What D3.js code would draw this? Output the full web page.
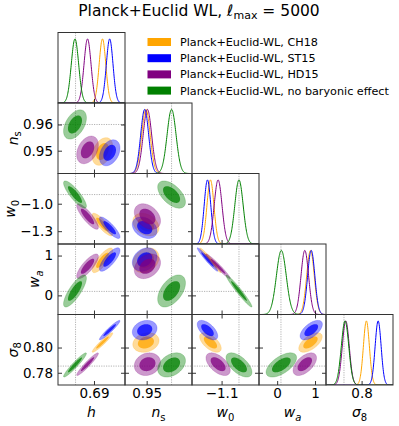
<!DOCTYPE html>
<html>
<head>
<meta charset="utf-8">
<script src="https://cdn.jsdelivr.net/npm/d3@7"></script>
<style>
  body { margin: 0; background: #fff; }
  svg { font-family: "DejaVu Sans", sans-serif; }
</style>
</head>
<body>
<svg id="chart" width="399" height="426"></svg>
<script>
// parameters, in corner order
const params = ['h', 'ns', 'w0', 'wa', 's8']
const fiducial = [0.68, 0.96, -0.9, 0.1, 0.7853]
const domains = [[0.6705, 0.7068], [0.9413, 0.9682], [-1.44, -0.67], [-0.48, 1.29], [0.7703, 0.8262]]
const xTicks = [[0.69], [0.95], [-1.1], [0, 1], [0.8]]
const yTicks = [[], [0.95, 0.96], [-1.3, -1.0], [0, 1], [0.78, 0.80]]
const xTickFmt = ['.2f', '.2f', '.1f', 'd', '.1f']
const yTickFmt = [null, '.2f', '.1f', 'd', '.2f']

// models
const models = ['Planck+Euclid-WL, CH18', 'Planck+Euclid-WL, ST15', 'Planck+Euclid-WL, HD15', 'Planck+Euclid-WL, no baryonic effect']
const colors = ['#ffa500', '#0000ff', '#800080', '#008000']

// means  [h, ns, w0, wa, s8]
const meanCH18  = [0.6946, 0.9497, -1.228, 0.88, 0.8040]
const meanST15  = [0.6985, 0.9492, -1.262, 0.90, 0.8138]
const meanHD15  = [0.6865, 0.9503, -1.140, 0.73, 0.7868]
const meanNoBar = [0.6797, 0.9600, -0.900, 0.11, 0.7862]

// 1-sigma errors [h, ns, w0, wa, s8]
const sigmaCH18  = [0.0018, 0.0017, 0.040, 0.100, 0.0025]
const sigmaST15  = [0.0018, 0.0016, 0.038, 0.095, 0.0025]
const sigmaHD15  = [0.0019, 0.0017, 0.045, 0.100, 0.0029]
const sigmaNoBar = [0.0020, 0.0018, 0.048, 0.130, 0.0031]

// correlations, pairs: h-ns, h-w0, h-wa, h-s8, ns-w0, ns-wa, ns-s8, w0-wa, w0-s8, wa-s8
const pairs = [[0,1],[0,2],[0,3],[0,4],[1,2],[1,3],[1,4],[2,3],[2,4],[3,4]]
const corrCH18  = [0.35, -0.85, 0.80, 0.95, -0.30, 0.25, 0.20, -0.97, -0.60, 0.60]
const corrST15  = [0.35, -0.85, 0.78, 0.95, -0.30, 0.25, 0.20, -0.97, -0.60, 0.60]
const corrHD15  = [0.35, -0.85, 0.80, 0.95, -0.35, 0.30, 0.15, -0.97, -0.55, 0.55]
const corrNoBar = [0.45, -0.85, 0.80, 0.95, -0.55, 0.50, 0.35, -0.97, -0.60, 0.60]

const means = [meanCH18, meanST15, meanHD15, meanNoBar]
const sigmas = [sigmaCH18, sigmaST15, sigmaHD15, sigmaNoBar]
const corrs = [corrCH18, corrST15, corrHD15, corrNoBar]

const padL = 58, padT = 32.5, cellW = 67, cellH = 70.5
const n = params.length
const k68 = 1.9, k95 = 3.1

const svg = d3.select('#chart')

const x = domains.map((d, j) => d3.scaleLinear().domain(d).range([padL + j * cellW, padL + (j + 1) * cellW]))
const y = domains.map((d, i) => d3.scaleLinear().domain(d).range([padT + (i + 1) * cellH, padT + i * cellH]))

const rho = (m, a, b) => corrs[m][pairs.findIndex(p => p[0] === a && p[1] === b)]

function ellipse(m, a, b, k) {
  const mx = means[m][a], my = means[m][b]
  const sx = sigmas[m][a], sy = sigmas[m][b], r = rho(m, a, b)
  const pts = d3.range(0, 2 * Math.PI, Math.PI / 72).map(t => [
    mx + k * sx * Math.cos(t),
    my + k * sy * (r * Math.cos(t) + Math.sqrt(1 - r * r) * Math.sin(t))
  ])
  return d3.line().x(p => x[a](p[0])).y(p => y[b](p[1]))(pts) + 'Z'
}

const defs = svg.append('defs')
const leftAxes = []

function addTicks(g, i, j, diag) {
  const x0 = padL + j * cellW, x1 = x0 + cellW
  const y0 = padT + i * cellH, y1 = y0 + cellH
  const fx = d3.format(xTickFmt[j])
  g.append('g').attr('transform', `translate(0,${y1})`)
    .call(d3.axisBottom(x[j]).tickValues(xTicks[j]).tickSizeInner(-4).tickSizeOuter(0).tickPadding(3)
      .tickFormat(i === n - 1 ? fx : ''))
  if (!diag) {
    g.append('g').attr('transform', `translate(0,${y0})`)
      .call(d3.axisTop(x[j]).tickValues(xTicks[j]).tickSizeInner(-4).tickSizeOuter(0).tickFormat(''))
    const la = g.append('g').attr('transform', `translate(${x0},0)`)
      .call(d3.axisLeft(y[i]).tickValues(yTicks[i]).tickSizeInner(-4).tickSizeOuter(0).tickPadding(5)
        .tickFormat(j === 0 ? d3.format(yTickFmt[i]) : ''))
    if (j === 0) leftAxes[i] = la
    g.append('g').attr('transform', `translate(${x1},0)`)
      .call(d3.axisRight(y[i]).tickValues(yTicks[i]).tickSizeInner(-4).tickSizeOuter(0).tickFormat(''))
  }
  g.selectAll('.domain').remove()
  g.selectAll('.tick line').attr('stroke', '#000').attr('stroke-width', 0.8)
  g.selectAll('.tick text').attr('font-size', 13.5).attr('fill', '#000').attr('font-family', 'DejaVu Sans')
}

for (let i = 0; i < n; i++) {
  for (let j = 0; j <= i; j++) {
    const x0 = padL + j * cellW, y0 = padT + i * cellH
    const id = `clip-${i}-${j}`
    defs.append('clipPath').attr('id', id).append('rect')
      .attr('x', x0).attr('y', y0).attr('width', cellW).attr('height', cellH)
    const panel = svg.append('g')
    const inner = panel.append('g').attr('clip-path', `url(#${id})`)

    // fiducial lines
    inner.append('line').attr('x1', x[j](fiducial[j])).attr('x2', x[j](fiducial[j]))
      .attr('y1', y0).attr('y2', y0 + cellH)
      .attr('stroke', '#aaa').attr('stroke-width', 0.9).attr('stroke-dasharray', '1.2,1.2')

    if (i === j) {
      const yp = d3.scaleLinear().domain([0, 1.1]).range([y0 + cellH, y0])
      const dom = domains[j]
      const xs = d3.range(dom[0], dom[1], (dom[1] - dom[0]) / 300).concat([dom[1]])
      means.forEach((mu, m) => {
        const line = d3.line()
          .x(v => x[j](v))
          .y(v => yp(Math.exp(-0.5 * Math.pow((v - mu[j]) / sigmas[m][j], 2))))
        inner.append('path').attr('d', line(xs))
          .attr('fill', 'none').attr('stroke', colors[m]).attr('stroke-width', 1)
      })
    } else {
      inner.append('line').attr('x1', x0).attr('x2', x0 + cellW)
        .attr('y1', y[i](fiducial[i])).attr('y2', y[i](fiducial[i]))
        .attr('stroke', '#aaa').attr('stroke-width', 0.9).attr('stroke-dasharray', '1.2,1.2')
      means.forEach((mu, m) => {
        inner.append('path').attr('d', ellipse(m, j, i, k95))
          .attr('fill', colors[m]).attr('fill-opacity', 0.4)
          .attr('stroke', colors[m]).attr('stroke-opacity', 0.25).attr('stroke-width', 0.8)
        inner.append('path').attr('d', ellipse(m, j, i, k68))
          .attr('fill', colors[m]).attr('fill-opacity', 0.75)
      })
    }

    addTicks(panel, i, j, i === j)

    panel.append('rect').attr('x', x0).attr('y', y0).attr('width', cellW).attr('height', cellH)
      .attr('fill', 'none').attr('stroke', '#333').attr('stroke-width', 1)
  }
}

// axis labels
const labelParts = [
  [['h', 'italic', 0]],
  [['n', 'italic', 0], ['s', 'normal', 1]],
  [['w', 'italic', 0], ['0', 'normal', 1]],
  [['w', 'italic', 0], ['a', 'italic', 1]],
  [['σ', 'italic', 0], ['8', 'normal', 1]]
]

function writeLabel(t, parts) {
  parts.forEach(([s, style, sub]) => {
    t.append('tspan').text(s).attr('font-style', style)
      .attr('font-size', sub ? 10 : 14).attr('dy', sub ? 3.5 : 0)
  })
}

for (let j = 0; j < n; j++) {
  const t = svg.append('text').attr('x', padL + (j + 0.5) * cellW).attr('y', 417)
    .attr('text-anchor', 'middle').attr('font-size', 14)
  writeLabel(t, labelParts[j])
}

for (let i = 1; i < n; i++) {
  const texts = leftAxes[i].selectAll('.tick text').nodes()
  const minX = d3.min(texts, nd => padL - 5 - nd.getBBox().width)
  const cx = minX - 5
  const cy = padT + (i + 0.5) * cellH
  const t = svg.append('text').attr('transform', `translate(${cx},${cy}) rotate(-90)`)
    .attr('text-anchor', 'middle').attr('font-size', 14)
  writeLabel(t, labelParts[i])
}

// title
const title = svg.append('text').attr('x', 199).attr('y', 16).attr('text-anchor', 'middle').attr('font-size', 15.5)
title.append('tspan').text('Planck+Euclid WL, ')
title.append('tspan').text('ℓ').attr('font-style', 'italic')
title.append('tspan').text('max').attr('font-size', 11).attr('dy', 3)
title.append('tspan').text(' = 5000').attr('dy', -3)

// legend
const legend = svg.append('g').attr('transform', 'translate(147.5,42)')
models.forEach((name, m) => {
  const row = legend.append('g').attr('transform', `translate(0,${m * 16.2})`)
  row.append('rect').attr('x', 0).attr('y', -4).attr('width', 23.5).attr('height', 8).attr('fill', colors[m])
  row.append('text').attr('x', 32.5).attr('y', 4).attr('font-size', 11.2).attr('fill', '#000').text(name)
})
</script>
</body>
</html>
